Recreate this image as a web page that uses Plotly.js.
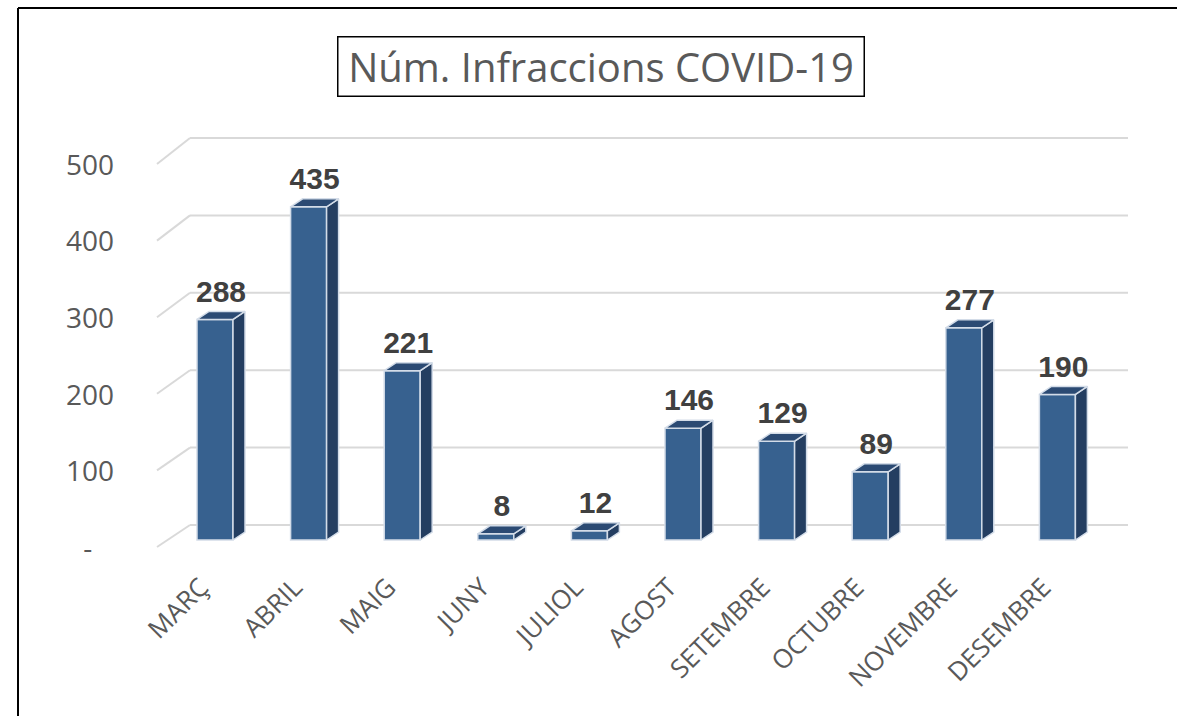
<!DOCTYPE html>
<html>
<head>
<meta charset="utf-8">
<script src="https://cdn.plot.ly/plotly-3.0.1.min.js"></script>
<style>html,body{margin:0;padding:0;background:#fff;overflow:hidden;}#chart{width:1177px;height:716px;}</style>
</head>
<body>
<div id="chart"></div>
<script>
// ---- data ----
const categories = ['MARÇ','ABRIL','MAIG','JUNY','JULIOL','AGOST','SETEMBRE','OCTUBRE','NOVEMBRE','DESEMBRE'];
const values = [288, 435, 221, 8, 12, 146, 129, 89, 277, 190];
const yTickVals = [0, 100, 200, 300, 400, 500];
const yTickText = ['-\u00a0\u00a0\u00a0', '100', '200', '300', '400', '500'];
const chartTitle = 'Núm. Infraccions COVID-19';

// ---- layout geometry (pixels) ----
const W = 1177, H = 716;
const PLOT_L = 145, PLOT_R = 1137, PLOT_T = 110, PLOT_B = 560;
const CAT0_PX = 215, PX_PER_CAT = 93.6;
const ZERO_PX = 540, PX_PER_VAL = 0.766;

const xr0 = -(CAT0_PX - PLOT_L) / PX_PER_CAT;
const xr1 = xr0 + (PLOT_R - PLOT_L) / PX_PER_CAT;
const yr0 = -(PLOT_B - ZERO_PX) / PX_PER_VAL;
const yr1 = (ZERO_PX - PLOT_T) / PX_PER_VAL;

// 3D look (in axis units)
const BAR_W = 36 / PX_PER_CAT;
const DX = 12 / PX_PER_CAT;
const DY = 8 / PX_PER_VAL;

// gridline geometry
const GRID_FRONT_X = (157 - CAT0_PX) / PX_PER_CAT;
const GRID_BACK_X = (190 - CAT0_PX) / PX_PER_CAT;
const GRID_END_X = (1128 - CAT0_PX) / PX_PER_CAT;
const GRID_BACK_OFF = (ZERO_PX - 525) / PX_PER_VAL, GRID_BACK_SCALE = 0.774 / PX_PER_VAL;
const GRID_FRONT_OFF = -(547 - ZERO_PX) / PX_PER_VAL;

const xIdx = categories.map((c, i) => i);

const shapes = [];
yTickVals.forEach(v => {
  const yb = GRID_BACK_OFF + v * GRID_BACK_SCALE;
  const yf = v + GRID_FRONT_OFF;
  shapes.push({type: 'line', xref: 'x', yref: 'y', layer: 'below', x0: GRID_FRONT_X, y0: yf, x1: GRID_BACK_X, y1: yb, line: {color: '#d9d9d9', width: 2}});
  shapes.push({type: 'line', xref: 'x', yref: 'y', layer: 'below', x0: GRID_BACK_X, y0: yb, x1: GRID_END_X, y1: yb, line: {color: '#d9d9d9', width: 2}});
});
// outer frame (top and left edges only)
shapes.push({type: 'line', xref: 'paper', yref: 'paper', x0: 18 / W, x1: 1.02, y0: 1 - 8 / H, y1: 1 - 8 / H, line: {color: '#000', width: 2}, layer: 'above'});
shapes.push({type: 'line', xref: 'paper', yref: 'paper', x0: 18 / W, x1: 18 / W, y0: -0.02, y1: 1 - 8 / H, line: {color: '#000', width: 2}, layer: 'above'});

// side & top faces
const sideX = [], sideY = [], topX = [], topY = [];
xIdx.forEach((i) => {
  const v = values[i];
  const xl = i - BAR_W / 2, xr = i + BAR_W / 2;
  sideX.push(xr, xr + DX, xr + DX, xr, xr, null);
  sideY.push(0, DY, v + DY, v, 0, null);
  topX.push(xl, xr, xr + DX, xl + DX, xl, null);
  topY.push(v, v, v + DY, v + DY, v, null);
});

const edge = {color: '#d3dce8', width: 1.5};
const traces = [
  {type: 'bar', x: xIdx, y: values, width: BAR_W, marker: {color: '#37618f', line: edge}, hoverinfo: 'skip'},
  {type: 'scatter', mode: 'lines', x: sideX, y: sideY, fill: 'toself', fillcolor: '#243e61', line: edge, hoverinfo: 'skip'},
  {type: 'scatter', mode: 'lines', x: topX, y: topY, fill: 'toself', fillcolor: '#2b4a73', line: edge, hoverinfo: 'skip'},
  {type: 'scatter', mode: 'text', x: xIdx.map(i => i + DX / 2), y: values.map(v => v + DY + 3),
   text: values.map(String), textposition: 'top center', cliponaxis: false,
   textfont: {family: 'Liberation Sans, Arial, sans-serif', size: 30, color: '#404040', weight: 'bold'}, hoverinfo: 'skip'}
];

const layout = {
  width: W, height: H,
  margin: {l: 0, r: 0, t: 0, b: 0},
  paper_bgcolor: '#fff', plot_bgcolor: 'rgba(0,0,0,0)',
  showlegend: false,
  xaxis: {
    domain: [PLOT_L / W, PLOT_R / W], range: [xr0, xr1], fixedrange: true,
    tickmode: 'array', tickvals: xIdx, ticktext: categories, tickangle: -45,
    tickfont: {family: 'Open Sans', size: 26, color: '#595959'},
    ticklabelshift: -14, ticklabelstandoff: 6,
    showgrid: false, zeroline: false, showline: false, ticks: ''
  },
  yaxis: {
    domain: [(H - PLOT_B) / H, (H - PLOT_T) / H], range: [yr0, yr1], fixedrange: true,
    tickmode: 'array', tickvals: yTickVals, ticktext: yTickText,
    tickfont: {family: 'Open Sans', size: 28, color: '#595959'},
    ticklabelshift: 8, ticklabelstandoff: 30,
    showgrid: false, zeroline: false, showline: false, ticks: ''
  },
  shapes: shapes,
  annotations: [{
    xref: 'paper', yref: 'paper', x: 601 / W, y: 1 - 67 / H, xanchor: 'center', yanchor: 'middle',
    text: chartTitle, showarrow: false, width: 515, height: 48,
    font: {family: 'Open Sans', size: 40, color: '#595959'},
    bordercolor: '#000', borderwidth: 1.5, borderpad: 5, bgcolor: '#fff'
  }]
};

Plotly.newPlot('chart', traces, layout, {staticPlot: true, displayModeBar: false});
</script>
</body>
</html>
